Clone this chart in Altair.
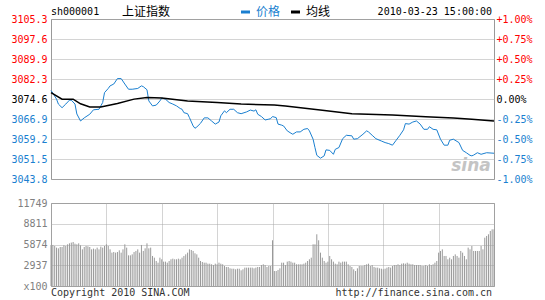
import json
import altair as alt
import pandas as pd

# ---------------- data ----------------
price_idx = [0, 1, 3, 4, 6, 8, 10, 11, 13, 14, 16, 18, 21, 23, 26, 28, 29, 31, 32, 34,
             36, 38, 40, 42, 44, 47, 49, 50, 52, 53, 55, 57, 59, 60, 62, 64, 66, 68, 70, 71,
             72, 74, 75, 77, 78, 79, 81, 83, 85, 87, 89, 91, 92, 94, 95, 97, 99, 101, 103, 106,
             108, 110, 111, 112, 114, 116, 118, 119, 120, 122, 123, 125, 126, 128, 130, 131, 133, 135, 137, 139,
             140, 142, 143, 144, 146, 148, 149, 151, 153, 154, 156, 158, 160, 163, 164, 166, 169, 171, 172, 174,
             176, 179, 181, 183, 185, 187, 189, 191, 192, 194, 196, 198, 200, 202, 204, 205, 207, 209, 211, 213,
             215, 216, 218, 221, 223, 225, 227, 228, 229, 231, 233, 236, 240]
price_val = [3077.8, 3076.8, 3074.5, 3072.6, 3071.2, 3072.6, 3074.1, 3074.1, 3072.6, 3068.8,
             3066.1, 3067.3, 3068.7, 3070.4, 3070.6, 3073.2, 3077.0, 3078.6, 3079.6, 3080.3,
             3082.4, 3082.4, 3080.3, 3078.3, 3078.3, 3078.6, 3079.6, 3079.3, 3078.1, 3073.8,
             3071.9, 3072.2, 3073.8, 3074.9, 3074.5, 3073.2, 3072.6, 3071.9, 3070.9, 3070.6,
             3069.3, 3068.9, 3067.4, 3064.2, 3063.3, 3063.8, 3065.2, 3067.3, 3067.3, 3066.1,
             3064.9, 3065.7, 3068.1, 3070.0, 3069.3, 3070.6, 3070.6, 3069.3, 3068.9, 3069.6,
             3070.3, 3069.9, 3070.4, 3068.7, 3067.8, 3066.5, 3066.8, 3067.0, 3067.8, 3067.4,
             3064.9, 3064.5, 3064.2, 3062.3, 3061.4, 3061.0, 3061.9, 3061.9, 3062.9, 3063.2,
             3062.3, 3059.1, 3055.9, 3052.9, 3051.8, 3052.7, 3055.0, 3054.8, 3053.3, 3055.2,
             3055.9, 3059.3, 3060.6, 3060.4, 3059.1, 3059.3, 3061.0, 3062.3, 3061.9, 3060.6,
             3059.3, 3058.4, 3057.8, 3057.4, 3056.8, 3058.7, 3060.6, 3062.7, 3065.1, 3064.9,
             3065.7, 3066.1, 3064.9, 3062.9, 3062.9, 3063.9, 3062.9, 3062.7, 3059.1, 3056.8,
             3056.8, 3058.7, 3059.1, 3057.8, 3054.8, 3053.9, 3052.9, 3052.7, 3053.0, 3053.9,
             3053.3, 3053.9, 3053.7]

avg_idx = [0, 6, 12, 16, 21, 27, 36, 45, 52, 60, 74, 90, 103, 121, 127, 147, 163, 185, 203, 218, 228, 240]
avg_val = [3077.0, 3074.5, 3074.5, 3072.7, 3071.5, 3071.5, 3072.8, 3074.5, 3075.1, 3074.9, 3073.8,
           3073.2, 3072.6, 3072.2, 3071.9, 3070.2, 3068.9, 3068.4, 3067.7, 3067.2, 3066.8, 3066.1]

volume = [5810, 5810, 5660, 5430, 5330, 5520, 5520, 5760, 5660, 5900,
          6040, 6140, 6230, 5990, 5900, 6040, 5760, 5190, 5520, 5660,
          5620, 5520, 5190, 5290, 5190, 5430, 5190, 5570, 5430, 5660,
          5900, 5660, 5190, 4720, 4810, 4720, 4810, 5050, 4720, 5190,
          5900, 5430, 4340, 4340, 4480, 4810, 4960, 5190, 4720, 5810,
          4960, 5330, 6040, 5330, 5430, 4250, 4010, 3540, 3300, 4010,
          3780, 3450, 3450, 3300, 3540, 3780, 3870, 3780, 3780, 3870,
          3780, 4010, 4250, 4480, 4720, 5190, 5100, 4960, 4630, 4480,
          4010, 3540, 3400, 3300, 3300, 3160, 3160, 3070, 2970, 3160,
          3070, 3300, 3160, 3070, 2830, 2690, 2690, 2500, 2450, 2450,
          2360, 2450, 2450, 2220, 2360, 2600, 2600, 2600, 2600, 2600,
          2500, 2600, 2690, 2690, 2970, 3070, 2970, 2690, 2830, 2830,
          6470,
          2120, 2120, 2270, 2500, 3300, 3300, 2970, 3450, 3540, 3450,
          3300, 3300, 3070, 3070, 3070, 3070, 3160, 3300, 3540, 3780,
          4010, 5900, 5900, 7320, 6470, 4720, 4010, 3540, 3300, 3450,
          4250, 3780, 3450, 3160, 3070, 3450, 3300, 3450, 3450, 3450,
          3070, 2830, 2690, 2360, 2120, 2500, 2830, 2830, 2830, 2970,
          3070, 3160, 2830, 2970, 2690, 2600, 2600, 2500, 2450, 2360,
          2450, 2600, 2690, 2600, 2830, 2970, 2970, 3070, 2970, 3160,
          3210, 3160, 3300, 3160, 3070, 3070, 2970, 2970, 2970, 2970,
          2830, 2830, 2970, 2830, 3070, 2970, 3070, 3300, 3540, 4720,
          4960, 5190, 4250, 4250, 3780, 4010, 3780, 4250, 4480, 4250,
          4010, 4960, 4720, 4250, 3780, 5430, 5190, 5660, 4960, 4960,
          4960, 4960, 5660, 5190, 6840, 7080, 7320, 7790, 8020, 8020]

time_labels = ["09:30", "10:00", "10:30", "11:00", "11:30", "13:30", "14:00", "14:30", "15:00"]
price_labels = ["3043.8", "3051.5", "3059.2", "3066.9", "3074.6", "3082.3", "3089.9", "3097.6", "3105.3"]
pct_labels = ["-1.00%", "-0.75%", "-0.50%", "-0.25%", "0.00%", "+0.25%", "+0.50%", "+0.75%", "+1.00%"]
vol_labels = ["x100", "2937", "5874", "8811", "11749"]

code_text = "sh000001"
name_text = "上证指数"
legend_price = "价格"
legend_avg = "均线"
date_text = "2010-03-23 15:00:00"
copyright_text = "Copyright 2010 SINA.COM"
url_text = "http://finance.sina.com.cn"

P_MIN, P_MAX = 3043.8, 3105.3
V_MAX = 11749

# ---------------- styles ----------------
BLUE = "#1a7fd0"
RED = "#ff0000"
FONT = "DejaVu Sans Mono"
CJK = "Noto Sans CJK SC"
W, H1, H2 = 443, 160, 83

p_step = (P_MAX - P_MIN) / 8
p_ticks = [P_MIN + i * p_step for i in range(9)]
x_ticks = [i * 30 for i in range(9)]
v_step = V_MAX / 4
v_ticks = [i * v_step for i in range(5)]

price_df = pd.DataFrame({"idx": price_idx, "price": price_val})
avg_df = pd.DataFrame({"idx": avg_idx, "price": avg_val})
vol_df = pd.DataFrame({"idx": list(range(len(volume))), "vol": volume})
one = pd.DataFrame({"k": [0]})

xscale = alt.Scale(domain=[0, 240], nice=False, zero=False)
yscale = alt.Scale(domain=[P_MIN, P_MAX], nice=False, zero=False)
vscale = alt.Scale(domain=[0, V_MAX], nice=False, zero=True)

time_expr = f"{json.dumps(time_labels)}[round(datum.value / 30)]"
price_expr = f"{json.dumps(price_labels)}[round((datum.value - {P_MIN}) / {p_step})]"
pct_expr = f"{json.dumps(pct_labels)}[round((datum.value - {P_MIN}) / {p_step})]"
vol_expr = f"{json.dumps(vol_labels)}[round(datum.value / {v_step})]"

color_cond = {
    "condition": [
        {"test": "datum.value > 3075", "value": RED},
        {"test": "datum.value < 3074", "value": BLUE},
    ],
    "value": "#000000",
}

x_axis_top = alt.Axis(values=x_ticks, labelExpr=time_expr, labelColor=BLUE, labelPadding=3,
                      grid=True, labelFlush=False, labelOverlap=False, title=None)
left_axis = alt.Axis(values=p_ticks, labelExpr=price_expr, labelColor=color_cond, labelPadding=4,
                     grid=True, labelOverlap=False, title=None)
right_axis = alt.Axis(orient="right", values=p_ticks, labelExpr=pct_expr, labelColor=color_cond,
                      labelPadding=2, grid=False, labelOverlap=False, title=None)

price_line = alt.Chart(price_df).mark_line(color=BLUE, strokeWidth=1).encode(
    x=alt.X("idx:Q", scale=xscale, axis=x_axis_top),
    y=alt.Y("price:Q", scale=yscale, axis=left_axis),
)
avg_line = alt.Chart(avg_df).mark_line(color="#000000", strokeWidth=1.5).encode(
    x=alt.X("idx:Q", scale=xscale, axis=None),
    y=alt.Y("price:Q", scale=yscale, axis=None),
)
right_ax = alt.Chart(price_df).mark_line(opacity=0).encode(
    x=alt.X("idx:Q", scale=xscale, axis=None),
    y=alt.Y("price:Q", scale=yscale, axis=right_axis),
)


def label(text, x, y, color="#000000", font=FONT, size=10, align="left", **kw):
    return alt.Chart(one).mark_text(text=text, font=font, fontSize=size, color=color,
                                    align=align, baseline="middle", **kw).encode(
        x=alt.value(x), y=alt.value(y))


def dash(x1, x2, y, color):
    return alt.Chart(one).mark_rule(color=color, strokeWidth=3).encode(
        x=alt.value(x1), x2=alt.value(x2), y=alt.value(y))


header = [
    label(code_text, 0, -7),
    label(name_text, 71, -7, font=CJK, size=12),
    dash(190, 199, -7, BLUE),
    label(legend_price, 205, -7, color=BLUE, font=CJK, size=12),
    dash(240, 249, -7, "#000000"),
    label(legend_avg, 255, -7, font=CJK, size=12),
    label(date_text, 441, -7, align="right"),
    label("sina", 420, 147, color="#c4c4c4", font="DejaVu Sans", size=17,
          fontStyle="italic", fontWeight="bold", align="center"),
]

top = alt.layer(price_line, avg_line, right_ax, *header).resolve_scale(y="independent").properties(
    width=W, height=H1)

vol_rules = alt.Chart(vol_df).mark_rule(color="#999999", strokeWidth=1).encode(
    x=alt.X("idx:Q", scale=xscale,
            axis=alt.Axis(values=x_ticks, labels=False, grid=True, title=None)),
    y=alt.Y("vol:Q", scale=vscale,
            axis=alt.Axis(values=v_ticks, labelExpr=vol_expr, labelColor="#808080", labelPadding=4,
                          grid=True, labelOverlap=False, title=None)),
    y2=alt.datum(0),
)
bottom = alt.layer(
    vol_rules,
    label(copyright_text, 0, H2 + 7, color="#333333"),
    label(url_text, 441, H2 + 7, color="#333333", align="right"),
).properties(width=W, height=H2)

chart = alt.vconcat(top, bottom, spacing=24, bounds="flush").properties(
    padding={"left": 10, "top": 5, "right": 4, "bottom": 2},
    background="#ffffff",
).configure_view(stroke="#999999", strokeWidth=1).configure_axis(
    domain=False, ticks=False, labelFont=FONT, labelFontSize=10,
    gridColor="#a8a8a8", gridDash=[1, 1], gridWidth=1,
)

chart.save("out.html", embed_options={"renderer": "svg", "actions": False})
